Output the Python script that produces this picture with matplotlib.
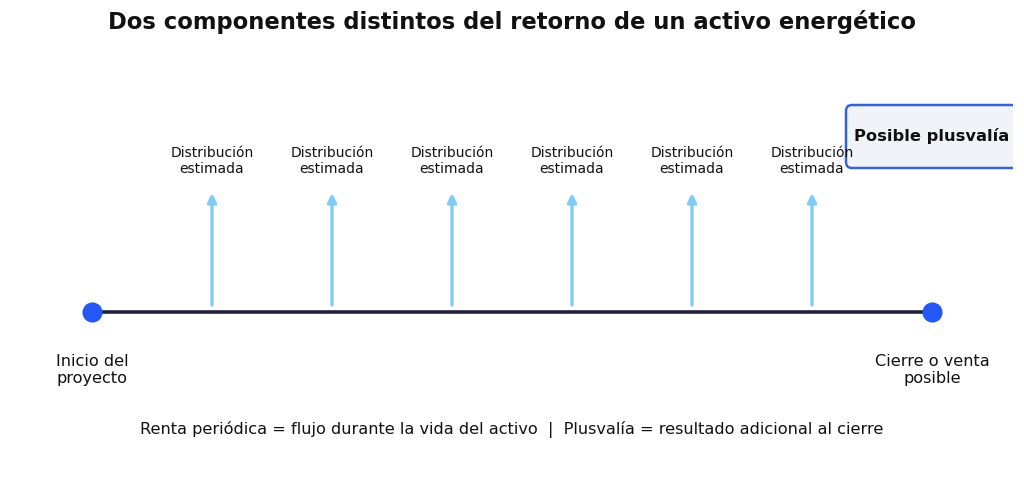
import matplotlib.pyplot as plt
from matplotlib.patches import FancyBboxPatch

title = 'Dos componentes distintos del retorno de un activo energético'
periods = [1, 2, 3, 4, 5, 6]
dist_label = 'Distribución\nestimada'
start_t, end_t = 0, 7
start_label = 'Inicio del\nproyecto'
end_label = 'Cierre o venta\nposible'
gain_label = 'Posible plusvalía'
note = 'Renta periódica = flujo durante la vida del activo  |  Plusvalía = resultado adicional al cierre'

fig = plt.figure(figsize=(10.24, 5), dpi=100)
# axes stops a bit before the right edge so the plusvalía box is cut like the original
ax = fig.add_axes([0, 0, 1013 / 1024, 1])
ax.set_xlim(-92 / 120, (1013 - 92) / 120)
ax.set_ylim(-1.88, 3.12)
ax.axis('off')

# timeline
ax.plot([start_t, end_t], [0, 0], color='#1f2238', lw=2.6, zorder=2, solid_capstyle='butt')
ax.plot([start_t, end_t], [0, 0], 'o', color='#2457f5', ms=13.5, zorder=3)

# periodic distributions
for t in periods:
    ax.annotate('', xy=(t, 1.19), xytext=(t, 0.07),
                arrowprops=dict(arrowstyle='-|>', color='#7fcdf5', lw=2.4,
                                mutation_scale=13, shrinkA=0, shrinkB=0))
    ax.text(t, 1.51, dist_label, ha='center', va='center', fontsize=10,
            color='#111111', linespacing=1.15, zorder=6)

ax.text(start_t, -0.58, start_label, ha='center', va='center', fontsize=11.6,
        color='#111111', linespacing=1.15)
ax.text(end_t, -0.58, end_label, ha='center', va='center', fontsize=11.6,
        color='#111111', linespacing=1.15)

# possible capital gain box
box = FancyBboxPatch(((846 - 92) / 120, 1.44), (1018 - 846) / 120, 0.63,
                     boxstyle='round,pad=0,rounding_size=0.05', mutation_aspect=1.2,
                     facecolor='#f1f3f9', edgecolor='#3565d4', lw=1.8, zorder=4)
ax.add_patch(box)
ax.text(end_t, 1.76, gain_label, ha='center', va='center', fontsize=11.7,
        fontweight='bold', color='#111111', zorder=5)

ax.text(3.5, -1.18, note, ha='center', va='center', fontsize=11.6, color='#111111')

fig.text(0.5, 1 - 22 / 500, title, ha='center', va='center', fontsize=16.3,
         fontweight='bold', color='#111111')

fig.savefig('out.png', dpi=100)
